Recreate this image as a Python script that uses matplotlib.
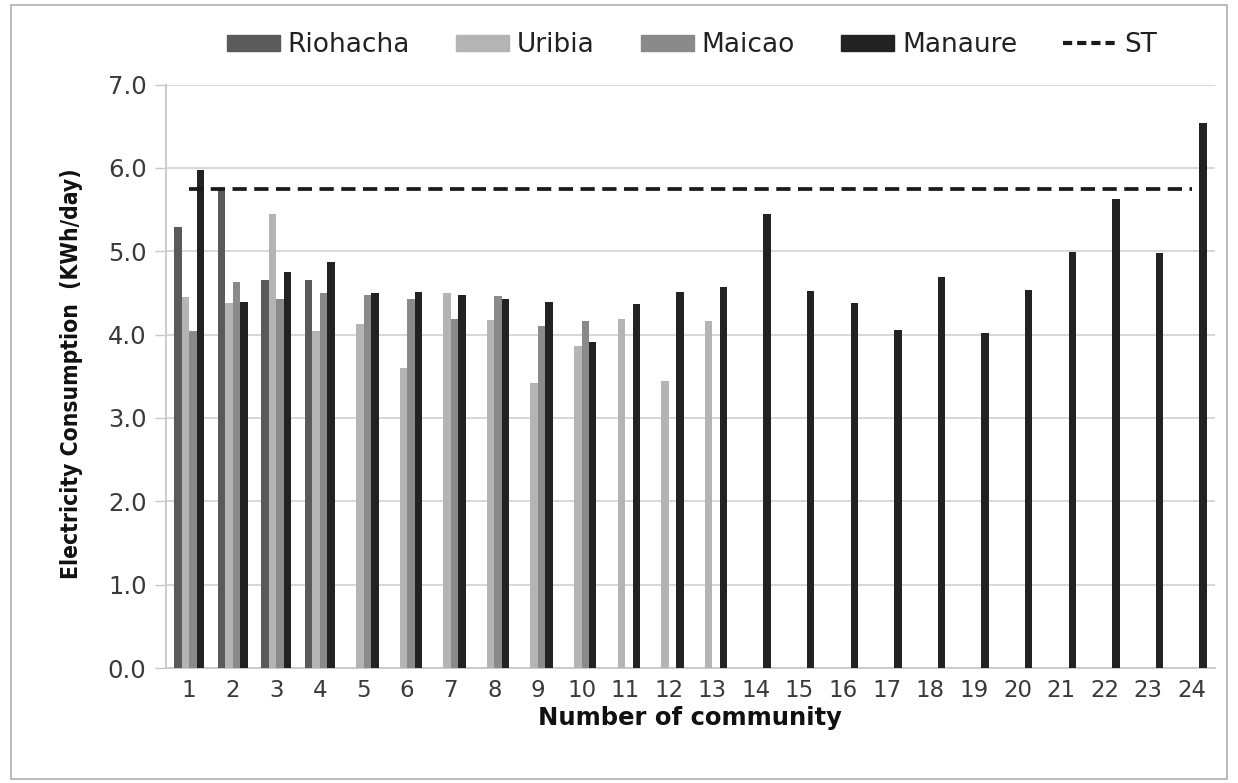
import matplotlib
matplotlib.use("Agg")
import matplotlib.pyplot as plt
from matplotlib.patches import Rectangle
from matplotlib.lines import Line2D
import numpy as np

communities = list(range(1, 25))
riohacha = [5.29, 5.76, 4.65, 4.65]
uribia = [4.45, 4.38, 5.45, 4.04, 4.13, 3.60, 4.50, 4.18, 3.42, 3.86, 4.19, 3.44, 4.16]
maicao = [4.04, 4.63, 4.43, 4.50, 4.47, 4.43, 4.19, 4.46, 4.10, 4.16]
manaure = [5.97, 4.39, 4.75, 4.87, 4.50, 4.51, 4.47, 4.43, 4.39, 3.91, 4.37, 4.51, 4.57,
           5.45, 4.52, 4.38, 4.05, 4.69, 4.02, 4.53, 4.99, 5.63, 4.98, 6.54]
st_value = 5.75
y_ticks = [0.0, 1.0, 2.0, 3.0, 4.0, 5.0, 6.0, 7.0]

series = [("Riohacha", riohacha, "#5a5a5a"),
          ("Uribia", uribia, "#b4b4b4"),
          ("Maicao", maicao, "#8a8a8a"),
          ("Manaure", manaure, "#222222")]

fig = plt.figure(figsize=(12.38, 7.83), dpi=100)
ax = fig.add_axes([166/1238, 1-668/783, (1215-166)/1238, (668-84.5)/783])

bw = 0.172
offsets = [-1.5, -0.5, 0.5, 1.5]
for (name, vals, col), off in zip(series, offsets):
    x = np.arange(1, len(vals)+1) + off*bw
    ax.bar(x, vals, width=bw, color=col, label=name, zorder=3)

ax.plot(communities, [st_value]*len(communities), color="#1a1a1a", lw=2.7,
        dashes=(3.8, 2.0), zorder=4, label="ST")

ax.set_xlim(0.47, 24.53)
ax.set_ylim(0, 7)
ax.set_yticks(y_ticks)
ax.set_yticklabels([f"{v:.1f}" for v in y_ticks], fontsize=17.5, color="#3a3a3a",
                   family="DejaVu Sans")
ax.set_xticks(communities)
ax.set_xticklabels([str(c) for c in communities], fontsize=16.5, color="#3a3a3a",
                   family="DejaVu Sans")
ax.tick_params(axis="x", length=0, pad=8)
ax.tick_params(axis="y", length=8, width=1, color="#c8c8c8", pad=6, direction="out")
ax.grid(axis="y", color="#d4d4d4", lw=1.3, zorder=0)
for s in ["top", "right"]:
    ax.spines[s].set_visible(False)
ax.spines["left"].set_color("#c8c8c8")
ax.spines["left"].set_linewidth(1.3)
ax.spines["bottom"].set_color("#c8c8c8")
ax.spines["bottom"].set_linewidth(1.3)

ax.set_xlabel("Number of community", fontsize=17.5, fontweight="bold",
              family="DejaVu Sans", color="#111111")
ax.xaxis.set_label_coords((690-166)/(1215-166), -(706-668)/(668-84.5))
ax.set_ylabel("Electricity Consumption  (KWh/day)", fontsize=16.4, fontweight="bold",
              family="DejaVu Sans", fontstretch="condensed", color="#111111")
ax.yaxis.set_label_coords(-(166-83)/(1215-166), (668-374)/(668-84.5))

handles = [Rectangle((0, 0), 1, 1, color=c) for _, _, c in series]
handles.append(Line2D([0], [0], color="#1a1a1a", lw=3, dashes=(2.2, 1.2)))
labels = [n for n, _, _ in series] + ["ST"]
leg = fig.legend(handles, labels, loc="center", bbox_to_anchor=(692/1238, 1-45/783),
                 ncol=5, frameon=False, handlelength=2.0, handleheight=0.55,
                 columnspacing=1.75, handletextpad=0.3,
                 prop={"family": "DejaVu Sans", "size": 19})
for t in leg.get_texts():
    t.set_color("#222222")

fig.patches.append(Rectangle((11/1238, 4/783), 1216/1238, 774/783, transform=fig.transFigure,
                             fill=False, edgecolor="#b0b0b0", lw=1.2))

fig.savefig("out.png", dpi=100, facecolor="white")
